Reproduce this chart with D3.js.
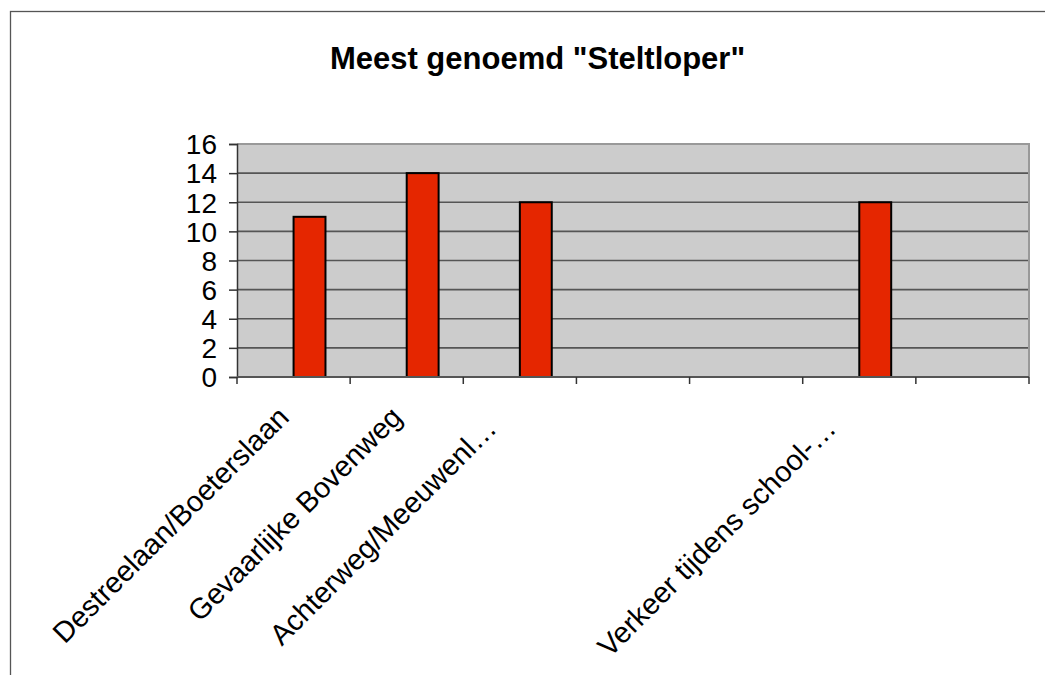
<!DOCTYPE html>
<html>
<head>
<meta charset="utf-8">
<script src="https://cdn.jsdelivr.net/npm/d3@7"></script>
<style>
  html, body { margin: 0; padding: 0; background: #fff; }
  svg { display: block; font-family: "Liberation Sans", Arial, sans-serif; }
</style>
</head>
<body>
<svg id="chart" width="1045" height="675"></svg>
<script>
const title = 'Meest genoemd "Steltloper"';
const categories = ["Destreelaan/Boeterslaan", "Gevaarlijke Bovenweg", "Achterweg/Meeuwenl…", "", "", "Verkeer tijdens school-…", ""];
const values = [11, 14, 12, null, null, 12, null];
const yTicks = [0, 2, 4, 6, 8, 10, 12, 14, 16];

const svg = d3.select("#chart");
const plot = { left: 237, right: 1029, top: 144, bottom: 377 };

// outer chart border (extends beyond the window on right/bottom)
svg.append("rect")
  .attr("x", 10.5).attr("y", 11.5)
  .attr("width", 1100).attr("height", 700)
  .attr("fill", "#fff").attr("stroke", "#555").attr("stroke-width", 1.3);

const x = d3.scaleBand().domain(d3.range(categories.length))
  .range([plot.left, plot.right]).paddingInner(0).paddingOuter(0);
const y = d3.scaleLinear().domain([0, 16]).range([plot.bottom, plot.top]);

// plot background
svg.append("rect")
  .attr("x", plot.left).attr("y", plot.top)
  .attr("width", plot.right - plot.left).attr("height", plot.bottom - plot.top)
  .attr("fill", "#cccccc");

// gridlines
svg.append("g").selectAll("line").data(yTicks.filter(d => d > 0 && d < 16)).join("line")
  .attr("x1", plot.left).attr("x2", plot.right)
  .attr("y1", d => y(d)).attr("y2", d => y(d))
  .attr("stroke", "#555").attr("stroke-width", 1.6);

// plot border top/right
svg.append("path")
  .attr("d", `M${plot.left},${plot.top}H${plot.right}V${plot.bottom}`)
  .attr("fill", "none").attr("stroke", "#999").attr("stroke-width", 2);

// bars
const bw = x.bandwidth();
const barW = bw * 0.282;
svg.append("g").selectAll("rect")
  .data(values.map((v, i) => ({ v, i })).filter(d => d.v != null))
  .join("rect")
  .attr("x", d => x(d.i) + bw / 2)
  .attr("y", d => y(d.v))
  .attr("width", barW)
  .attr("height", d => y(0) - y(d.v))
  .attr("fill", "#e52600")
  .attr("stroke", "#000").attr("stroke-width", 2);

// y axis
const yAxis = d3.axisLeft(y).tickValues(yTicks).tickSize(8).tickPadding(12);
const gy = svg.append("g").attr("transform", `translate(${plot.left},0)`).call(yAxis);
gy.select(".domain").attr("stroke", "#333").attr("stroke-width", 1.5);
gy.selectAll(".tick line").attr("stroke", "#333").attr("stroke-width", 1.5);
gy.selectAll(".tick text")
  .attr("font-size", 28).attr("fill", "#000")
  .attr("font-family", "'Liberation Sans', Arial, sans-serif")
  .attr("dy", "0.35em");

// x axis
const boundaries = d3.range(categories.length + 1).map(i => plot.left + i * bw);
const gx = svg.append("g");
gx.append("line")
  .attr("x1", plot.left).attr("x2", plot.right)
  .attr("y1", plot.bottom).attr("y2", plot.bottom)
  .attr("stroke", "#555").attr("stroke-width", 1.8);
gx.selectAll("line.tick").data(boundaries).join("line").attr("class", "tick")
  .attr("x1", d => d).attr("x2", d => d)
  .attr("y1", plot.bottom).attr("y2", plot.bottom + 7)
  .attr("stroke", "#333").attr("stroke-width", 1.5);

// category labels
const fs = 29;
gx.selectAll("text").data(categories.map((c, i) => ({ c, i })).filter(d => d.c)).join("text")
  .attr("transform", d => `translate(${x(d.i) + bw / 2 - 3},${plot.bottom + 42}) rotate(-45)`)
  .attr("text-anchor", "end")
  .attr("x", d => d.c.endsWith("…") ? -0.73 * fs : 0)
  .attr("dy", d => d.c.endsWith("…") ? "-0.18em" : "0")
  .attr("font-size", fs)
  .attr("fill", "#000")
  .text(d => d.c);

// title
svg.append("text")
  .attr("x", 537.5).attr("y", 69)
  .attr("text-anchor", "middle")
  .attr("font-size", 31).attr("font-weight", "bold")
  .attr("fill", "#000")
  .text(title);
</script>
</body>
</html>
